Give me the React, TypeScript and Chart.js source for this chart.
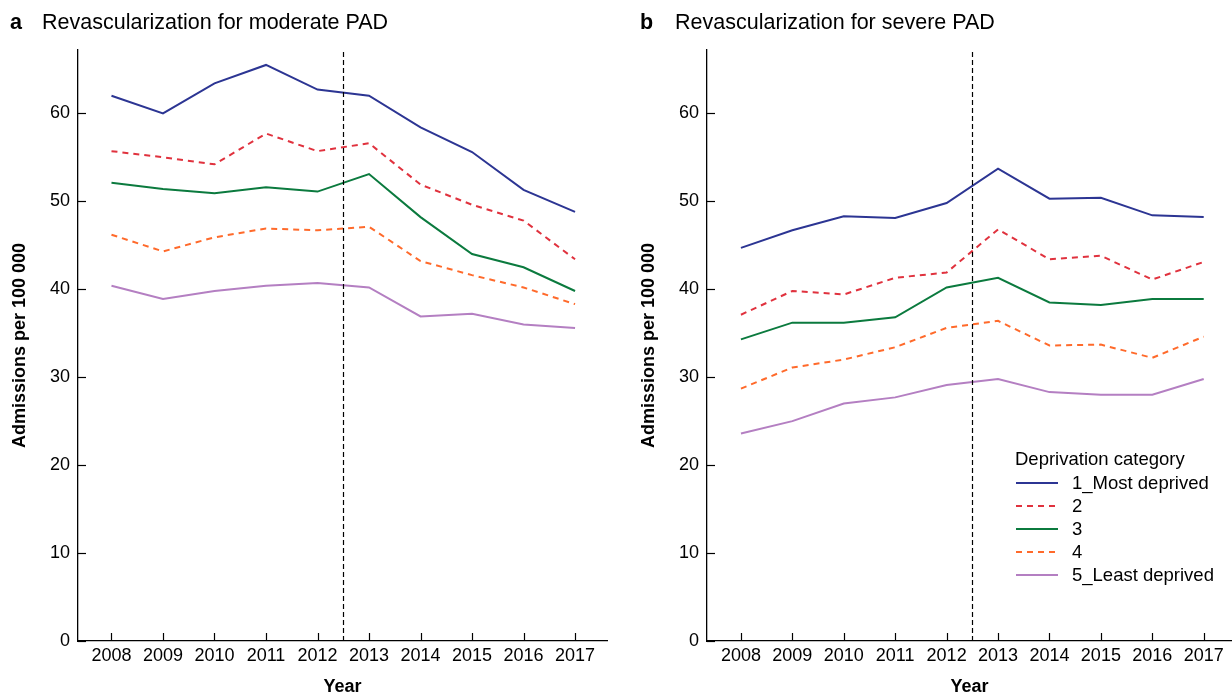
import React, { useEffect, useRef } from "react";
import { Chart, registerables } from "chart.js";

Chart.register(...registerables);

const FONT = "'Liberation Sans', Arial, Helvetica, sans-serif";

const years = [2008, 2009, 2010, 2011, 2012, 2013, 2014, 2015, 2016, 2017];
const yTicks = [0, 10, 20, 30, 40, 50, 60];
const policyYear = 2012.5;

const seriesLabels = ["1_Most deprived", "2", "3", "4", "5_Least deprived"];
const seriesColors = ["#2c3593", "#e0323e", "#0b7a3e", "#ff6a2b", "#b47fc2"];
const seriesDashed = [false, true, false, true, false];

// Panel a: moderate PAD
const moderate1 = [62.0, 60.0, 63.4, 65.5, 62.7, 62.0, 58.4, 55.6, 51.3, 48.8];
const moderate2 = [55.7, 55.0, 54.2, 57.7, 55.7, 56.6, 51.9, 49.6, 47.8, 43.4];
const moderate3 = [52.1, 51.4, 50.9, 51.6, 51.1, 53.1, 48.2, 44.0, 42.5, 39.8];
const moderate4 = [46.2, 44.3, 45.9, 46.9, 46.7, 47.1, 43.2, 41.6, 40.2, 38.3];
const moderate5 = [40.4, 38.9, 39.8, 40.4, 40.7, 40.2, 36.9, 37.2, 36.0, 35.6];

// Panel b: severe PAD
const severe1 = [44.7, 46.7, 48.3, 48.1, 49.8, 53.7, 50.3, 50.4, 48.4, 48.2];
const severe2 = [37.1, 39.8, 39.4, 41.3, 41.9, 46.8, 43.4, 43.8, 41.1, 43.1];
const severe3 = [34.3, 36.2, 36.2, 36.8, 40.2, 41.3, 38.5, 38.2, 38.9, 38.9];
const severe4 = [28.7, 31.1, 32.0, 33.4, 35.6, 36.4, 33.6, 33.7, 32.2, 34.6];
const severe5 = [23.6, 25.0, 27.0, 27.7, 29.1, 29.8, 28.3, 28.0, 28.0, 29.8];

const legendTitle = "Deprivation category";

const decorPlugin = {
  id: "decor",
  afterDatasetsDraw(chart: any, _args: any, opts: any) {
    const { ctx, chartArea, scales } = chart;
    const x = scales.x;
    const y = scales.y;
    ctx.save();
    ctx.strokeStyle = "#000";
    ctx.lineWidth = 1.2;
    // inward tick marks
    x.ticks.forEach((t: any) => {
      const px = Math.round(x.getPixelForValue(t.value)) + 0.5;
      ctx.beginPath();
      ctx.moveTo(px, chartArea.bottom);
      ctx.lineTo(px, chartArea.bottom - 8);
      ctx.stroke();
    });
    y.ticks.forEach((t: any) => {
      const py = Math.round(y.getPixelForValue(t.value)) + 0.5;
      ctx.beginPath();
      ctx.moveTo(chartArea.left, py);
      ctx.lineTo(chartArea.left + 8, py);
      ctx.stroke();
    });
    // policy change line
    const vx = Math.round(x.getPixelForValue(policyYear)) + 0.5;
    ctx.setLineDash([5, 3]);
    ctx.lineWidth = 1.2;
    ctx.beginPath();
    ctx.moveTo(vx, chartArea.top + 2);
    ctx.lineTo(vx, chartArea.bottom);
    ctx.stroke();
    ctx.setLineDash([]);

    if (opts && opts.legend) {
      const lx = chartArea.left + opts.legendDx;
      let ly = chartArea.top + opts.legendDy;
      ctx.font = `18.5px ${FONT}`;
      ctx.fillStyle = "#000";
      ctx.textBaseline = "middle";
      ctx.textAlign = "left";
      ctx.fillText(legendTitle, lx, ly);
      chart.data.datasets.forEach((ds: any) => {
        ly += 23;
        ctx.save();
        ctx.strokeStyle = ds.borderColor;
        ctx.lineWidth = ds.borderWidth;
        ctx.setLineDash(ds.borderDash || []);
        ctx.beginPath();
        ctx.moveTo(lx + 1, ly);
        ctx.lineTo(lx + 43, ly);
        ctx.stroke();
        ctx.restore();
        ctx.fillStyle = "#000";
        ctx.fillText(ds.label, lx + 57, ly + 1);
      });
    }
    ctx.restore();
  },
};

function makeConfig(values: number[][], xMin: number, xMax: number, padRight: number, legend: boolean): any {
  return {
    type: "line",
    data: {
      datasets: values.map((vals, i) => ({
        label: seriesLabels[i],
        data: years.map((yr, j) => ({ x: yr, y: vals[j] })),
        borderColor: seriesColors[i],
        backgroundColor: seriesColors[i],
        borderWidth: 2,
        borderDash: seriesDashed[i] ? [6, 5] : [],
        pointRadius: 0,
        tension: 0,
        fill: false,
      })),
    },
    options: {
      responsive: false,
      animation: false,
      events: [],
      layout: { padding: { top: 50, right: padRight, left: 0, bottom: 0 } },
      plugins: {
        legend: { display: false },
        title: { display: false },
        tooltip: { enabled: false },
        decor: { legend, legendDx: 308, legendDy: 410 },
      },
      scales: {
        x: {
          type: "linear",
          min: xMin,
          max: xMax,
          afterBuildTicks: (s: any) => {
            s.ticks = years.map((v) => ({ value: v }));
          },
          afterFit: (s: any) => {
            s.height = 55;
          },
          grid: { display: false, drawTicks: false },
          border: { display: true, color: "#000", width: 1.3 },
          ticks: {
            autoSkip: false,
            maxRotation: 0,
            padding: 4,
            color: "#000",
            font: { family: FONT, size: 18 },
            callback: (v: any) => String(v),
          },
          title: {
            display: true,
            text: "Year",
            color: "#000",
            font: { family: FONT, size: 18, weight: "bold" },
            padding: { top: 0, bottom: -2 },
          },
        },
        y: {
          type: "linear",
          min: 0,
          max: 67.2,
          afterBuildTicks: (s: any) => {
            s.ticks = yTicks.map((v) => ({ value: v }));
          },
          afterFit: (s: any) => {
            s.width = 78;
          },
          grid: { display: false, drawTicks: false },
          border: { display: true, color: "#000", width: 1.3 },
          ticks: {
            padding: 8,
            color: "#000",
            font: { family: FONT, size: 18 },
            callback: (v: any) => String(v),
          },
          title: {
            display: true,
            text: "Admissions per 100 000",
            color: "#000",
            font: { family: FONT, size: 18, weight: "bold" },
            padding: { top: 9, bottom: 0 },
          },
        },
      },
    },
    plugins: [decorPlugin],
  };
}

function Panel(props: { config: any; left: number; width: number }) {
  const ref = useRef<HTMLCanvasElement | null>(null);
  useEffect(() => {
    if (!ref.current) return;
    const chart = new Chart(ref.current, props.config);
    return () => chart.destroy();
  }, []);
  return (
    <canvas
      ref={ref}
      width={props.width}
      height={696}
      style={{ position: "absolute", left: props.left, top: 0, width: props.width, height: 696, display: "block" }}
    />
  );
}

function Title(props: { letter: string; text: string; left: number; textLeft: number }) {
  const common: any = {
    position: "absolute",
    top: 10,
    fontFamily: FONT,
    fontSize: 21.5,
    lineHeight: "24px",
    color: "#000",
    whiteSpace: "nowrap",
  };
  return (
    <>
      <div style={{ ...common, left: props.left, fontWeight: "bold" }}>{props.letter}</div>
      <div style={{ ...common, left: props.textLeft }}>{props.text}</div>
    </>
  );
}

export default function App() {
  const leftConfig = makeConfig([moderate1, moderate2, moderate3, moderate4, moderate5], 2007.35, 2017.62, 9, false);
  const rightConfig = makeConfig([severe1, severe2, severe3, severe4, severe5], 2007.34, 2017.55, 0, true);
  return (
    <div
      style={{
        position: "fixed",
        left: 0,
        top: 0,
        width: 1232,
        height: 696,
        overflow: "hidden",
        background: "#fff",
      }}
    >
      <Panel config={leftConfig} left={0} width={616} />
      <Panel config={rightConfig} left={629} width={603} />
      <Title letter="a" text="Revascularization for moderate PAD" left={10} textLeft={42} />
      <Title letter="b" text="Revascularization for severe PAD" left={640} textLeft={675} />
    </div>
  );
}
